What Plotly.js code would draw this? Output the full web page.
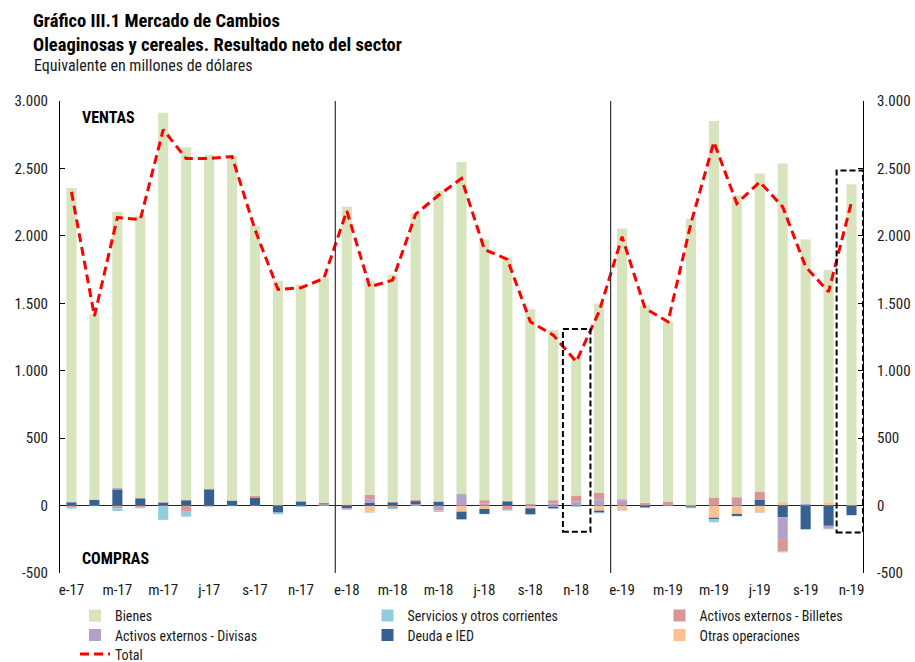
<!DOCTYPE html>
<html>
<head>
<meta charset="utf-8">
<script src="https://cdn.plot.ly/plotly-3.0.1.min.js"></script>
<style>html,body{margin:0;padding:0;background:#fff;}#chart{width:915px;height:662px;}</style>
</head>
<body>
<div id="chart"></div>
<script>
// ---- data ----
const months = ["e-17","f-17","m-17","a-17","my-17","jn-17","jl-17","ag-17","s-17","o-17","n-17","d-17",
                "e-18","f-18","m-18","a-18","my-18","jn-18","jl-18","ag-18","s-18","o-18","n-18","d-18",
                "e-19","f-19","m-19","a-19","my-19","jn-19","jl-19","ag-19","s-19","o-19","n-19"];
const tickLabels = ["e-17","m-17","m-17","j-17","s-17","n-17",
                    "e-18","m-18","m-18","j-18","s-18","n-18",
                    "e-19","m-19","m-19","j-19","s-19","n-19"];
const bienes = [2330,1374,2048,2095,2886,2617,2479,2556,2002,1664,1605,1671,
                2205,1588,1689,2123,2303,2463,1933,1808,1440,1261,1017,1405,
                2008,1464,1333,2126,2792,2239,2358,2511,1958,1721,2383];
const servicios = [-8,-5,-20,-5,-106,-42,0,-5,-3,-12,-10,-3,
                   -5,-7,-8,-3,-10,-3,-3,-5,-5,-3,-10,-5,
                   -4,-4,-5,-5,-22,-4,-4,-7,-4,-4,-4];
const billetes = [-15,0,-20,-15,5,-40,-8,0,15,0,5,0,
                  0,32,-18,10,-12,0,25,-32,0,25,45,47,
                  7,20,30,0,60,50,62,-91,0,0,0];
const divisas = [0,0,10,0,0,0,0,0,0,0,0,0,
                 -8,25,0,0,-25,85,15,0,15,15,30,47,
                 40,0,0,0,0,12,0,-163,15,-22,0];
const deuda = [25,44,120,54,22,40,121,37,57,-52,30,10,
               -20,22,25,25,30,-57,-37,32,-45,-15,0,-15,
               0,-15,0,-10,-12,-15,42,-86,-175,-150,-70];
const otras = [0,0,0,0,0,0,0,0,0,3,0,8,
               10,-45,0,8,0,-45,-25,0,-20,-7,0,-37,
               -35,0,0,-5,-90,-62,-50,25,0,25,0];
const total = [2326,1405,2136,2121,2788,2573,2573,2588,2045,1603,1615,1684,
               2185,1622,1672,2161,2301,2425,1899,1825,1363,1264,1067,1440,
               1993,1462,1363,2092,2696,2240,2400,2215,1770,1585,2252];
const yTickVals = [-500,0,500,1000,1500,2000,2500,3000];
const yTickText = ["-500","0","500","1.000","1.500","2.000","2.500","3.000"];

// ---- styling ----
const FONT = "'Roboto Condensed','Liberation Sans Narrow','DejaVu Sans Condensed',Roboto,sans-serif";
const TXT = '#1a1a1a';
const W = 915, H = 662;
const M = {l:60, r:52, t:101, b:89, autoexpand:false};
const PW = W - M.l - M.r, PH = H - M.t - M.b;
const px = x => (x - M.l) / PW;          // pixel -> paper x
const py = y => (H - M.b - y) / PH;      // pixel -> paper y

function bar(name, y, color, legend, rank) {
  return {type:'bar', name:name, x:months, y:y, marker:{color:color, line:{width:0}},
          legend:legend, legendrank:rank, showlegend:true, hoverinfo:'skip'};
}
const traces = [
  bar('Otras operaciones', otras, '#fac090', 'legend6', 6),
  bar('Deuda e IED', deuda, '#376092', 'legend5', 5),
  bar('Activos externos - Divisas', divisas, '#b3a2c7', 'legend4', 4),
  bar('Activos externos - Billetes', billetes, '#da9694', 'legend3', 3),
  bar('Servicios y otros corrientes', servicios, '#92cddc', 'legend2', 2),
  bar('Bienes', bienes, '#d7e4bd', 'legend8', 1),
  {type:'scatter', mode:'lines', name:'Total', x:months, y:total, yaxis:'y2', showlegend:true,
   line:{color:'#ff0000', width:3, dash:'9px,5px'}, legend:'legend7', legendrank:7, hoverinfo:'skip'}
];

const legRows = [616, 635.5, 654.5];
const legCols = [75, 367.5, 659.5];
function leg(c, r) {
  return {x:legCols[c]/W, y:1 - legRows[r]/H, xref:'container', yref:'container',
          xanchor:'left', yanchor:'middle', orientation:'v',
          bgcolor:'rgba(0,0,0,0)', font:{family:FONT, size:14, color:TXT}, itemwidth:30};
}

const yax = {range:[-500,3000], tickvals:yTickVals, ticktext:yTickText, showgrid:false,
             ticks:'inside', ticklen:5, tickcolor:'#000', showline:true, linecolor:'#000', linewidth:1,
             tickfont:{family:FONT, size:15, color:TXT}, fixedrange:true};

const layout = {
  width:W, height:H, margin:M, paper_bgcolor:'#fff', plot_bgcolor:'#fff',
  showlegend:true,
  barmode:'relative', bargap:0.56,
  font:{family:FONT, color:TXT},
  title:{text:'<b>Gráfico III.1 Mercado de Cambios</b><br><b>Oleaginosas y cereales. Resultado neto del sector</b>',
         x:33/W, xanchor:'left', xref:'container', y:1-27/H, yanchor:'top', yref:'container',
         font:{family:FONT, size:18.5, color:'#000'}},
  xaxis:{type:'category', categoryarray:months, range:[-0.5,34.5],
         tickvals:months.filter((m,i)=>i%2===0), ticktext:tickLabels,
         ticks:'', showline:false, showgrid:false, zeroline:false, ticklabelstandoff:6,
         tickfont:{family:FONT, size:15, color:TXT}, tickangle:0},
  yaxis:Object.assign({}, yax, {side:'left', zeroline:true, zerolinecolor:'#222', zerolinewidth:1.2, ticklabelstandoff:8}),
  yaxis2:Object.assign({}, yax, {side:'right', overlaying:'y', zeroline:false, ticklabelstandoff:10}),
  legend8:leg(0,0), legend2:leg(1,0), legend3:leg(2,0),
  legend4:leg(0,1), legend5:leg(1,1), legend6:leg(2,1), legend7:leg(0,2),
  annotations:[
    {text:'Equivalente en millones de dólares', xref:'paper', yref:'paper', x:px(32), y:py(65),
     xanchor:'left', yanchor:'middle', showarrow:false, font:{family:FONT, size:16, color:TXT}},
    {text:'<b>VENTAS</b>', xref:'paper', yref:'paper', x:px(80), y:py(117),
     xanchor:'left', yanchor:'middle', showarrow:false, font:{family:FONT, size:16, color:'#000'}},
    {text:'<b>COMPRAS</b>', xref:'paper', yref:'paper', x:px(80), y:py(558),
     xanchor:'left', yanchor:'middle', showarrow:false, font:{family:FONT, size:16, color:'#000'}}
  ],
  shapes:[
    {type:'line', xref:'x', yref:'y', x0:11.5, x1:11.5, y0:-500, y1:3000, line:{color:'#333', width:1.2}},
    {type:'line', xref:'x', yref:'y', x0:23.5, x1:23.5, y0:-500, y1:3000, line:{color:'#333', width:1.2}},
    {type:'rect', xref:'x', yref:'y', x0:21.42, x1:22.62, y0:-195, y1:1310, line:{color:'#000', width:2, dash:'6px,3px'}},
    {type:'rect', xref:'x', yref:'y', x0:33.35, x1:34.5, y0:-200, y1:2485, line:{color:'#000', width:2, dash:'6px,3px'}}
  ]
};

Plotly.newPlot('chart', traces, layout, {displayModeBar:false, staticPlot:true});
</script>
</body>
</html>
